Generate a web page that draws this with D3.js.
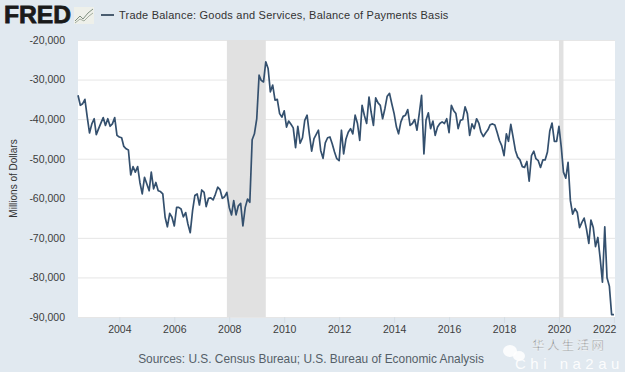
<!DOCTYPE html>
<html>
<head>
<meta charset="utf-8">
<script src="https://cdn.jsdelivr.net/npm/d3@7"></script>
<style>
  html, body { margin: 0; padding: 0; background: #e1e9f0; }
  svg { display: block; font-family: "Liberation Sans", Arial, sans-serif; }
</style>
</head>
<body>
<div id="chart"></div>
<script>
const seriesName = 'Trade Balance: Goods and Services, Balance of Payments Basis';
const yAxisLabel = 'Millions of Dollars';
const sourceNote = 'Sources: U.S. Census Bureau; U.S. Bureau of Economic Analysis';

const firstMonth = new Date(2002, 6, 1);
// monthly values in millions of dollars
const balance = [
  -33960, -36500, -36100, -35000, -39500, -43500, -41200, -39900, -43900, -42400, -41000, -39600,
  -41600, -39900, -41800, -41200, -39600, -44100, -44500, -44700, -46900, -47500, -47800, -54100,
  -52000, -53400, -52000, -56000, -58900, -54700, -56400, -58100, -53400, -57600, -56000, -58100,
  -58300, -58900, -64800, -67200, -63800, -64800, -67000, -62300, -62300, -62700, -64700, -63600,
  -66500, -68700, -63100, -59300, -58900, -61700, -57900, -58500, -62100, -60000, -59900, -60400,
  -59000, -57200, -57800, -60000, -59600, -58500, -62300, -64200, -60600, -64200, -61900, -61300,
  -67000, -62300, -60200, -61000, -45200, -43700, -39900, -28900, -30200, -30600, -25500, -27200,
  -33100, -31400, -35200, -35000, -38600, -39500, -37900, -42000, -40500, -41300, -42200, -47200,
  -41800, -46100, -44700, -40300, -39000, -43700, -48100, -44900, -43900, -42800, -47900, -49900,
  -46000, -44700, -44500, -46200, -48300, -50000, -50500, -42800, -48800, -45000, -43300, -42400,
  -43700, -39000, -41100, -45400, -36500, -39000, -41100, -34400, -38200, -41600, -34600, -35900,
  -36500, -39900, -37300, -34200, -33500, -36100, -38600, -42000, -43700, -40700, -39300, -39000,
  -37600, -41600, -41100, -40100, -42800, -38600, -34000, -48800, -40300, -38400, -42400, -40500,
  -44100, -42000, -41100, -40700, -41100, -39900, -43400, -36500, -37800, -38600, -42400, -40300,
  -40100, -36900, -38600, -44100, -41200, -42400, -39900, -41100, -43300, -44400, -43500, -42700,
  -41400, -41200, -41500, -43300, -45400, -46700, -49200, -43700, -45600, -41300, -44500, -47900,
  -49600, -50300, -52000, -52200, -50700, -55700, -49200, -48100, -50000, -50500, -52200, -50300,
  -50300, -48300, -43000, -41000, -45600, -45600, -41800, -47100, -53400, -54900, -50900, -60600,
  -64000, -62600, -63600, -67400, -66100, -65000, -67800, -71400, -65500, -67400, -72200, -69900,
  -75000, -81200, -67200, -80100, -82200, -89400, -89400
];

const yTicks = [-20000, -30000, -40000, -50000, -60000, -70000, -80000, -90000];
const xTickYears = [2004, 2006, 2008, 2010, 2012, 2014, 2016, 2018, 2020, 2022];
// shaded bars, placed where the picture has them
const recessions = [
  [new Date(2007, 11, 1), new Date(2009, 4, 1)],
  [new Date(2020, 0, 1), new Date(2020, 2, 1)]
];

const width = 625;
const height = 372;
const margin = { top: 40, right: 10, bottom: 55, left: 78 };

const months = balance.map((v, i) => d3.timeMonth.offset(firstMonth, i));

const svg = d3.select('#chart').append('svg')
  .attr('width', width)
  .attr('height', height);

const x = d3.scaleTime()
  .domain([firstMonth, new Date(2022, 0, 15)])
  .range([margin.left, width - margin.right]);

const y = d3.scaleLinear()
  .domain([-90000, -20000])
  .range([height - margin.bottom, margin.top]);

// plain hyphen on the tick labels, not the unicode minus
const fmt = d3.formatLocale({ decimal: '.', thousands: ',', grouping: [3], currency: ['$', ''], minus: '-' }).format(',');

// plot background
svg.append('rect')
  .attr('x', margin.left)
  .attr('y', margin.top)
  .attr('width', width - margin.left - margin.right)
  .attr('height', height - margin.top - margin.bottom)
  .attr('fill', '#fff');

// y axis with grid lines
const yAxis = svg.append('g')
  .attr('transform', `translate(${margin.left},0)`)
  .call(d3.axisLeft(y)
    .tickValues(yTicks)
    .tickSize(-(width - margin.left - margin.right))
    .tickPadding(13)
    .tickFormat(fmt));
yAxis.select('.domain').remove();
yAxis.selectAll('line').attr('stroke', '#e6e6e6');
yAxis.selectAll('text')
  .attr('font-size', 10.5)
  .attr('fill', '#3c3c3c');

// recession bars
svg.selectAll('.recession')
  .data(recessions)
  .enter()
  .append('rect')
  .attr('class', 'recession')
  .attr('x', d => x(d[0]))
  .attr('y', margin.top)
  .attr('width', d => x(d[1]) - x(d[0]))
  .attr('height', height - margin.top - margin.bottom)
  .attr('fill', '#e1e1e1');

// x axis
const xAxis = svg.append('g')
  .attr('transform', `translate(0,${height - margin.bottom})`)
  .call(d3.axisBottom(x)
    .tickValues(xTickYears.map(yr => new Date(yr, 0, 1)))
    .tickSize(6)
    .tickPadding(3)
    .tickFormat(d3.timeFormat('%Y')));
xAxis.select('.domain').remove();
xAxis.selectAll('line').attr('stroke', '#d5dde4');
xAxis.selectAll('text')
  .attr('font-size', 10.5)
  .attr('fill', '#3c3c3c');
// last label is pulled in so it stays inside the frame
xAxis.selectAll('text')
  .filter(d => d.getFullYear() === 2022)
  .attr('text-anchor', 'end')
  .attr('x', 2);

// the series
const line = d3.line()
  .x((d, i) => x(months[i]))
  .y(d => y(d));

svg.append('path')
  .datum(balance)
  .attr('fill', 'none')
  .attr('stroke', '#34506e')
  .attr('stroke-width', 1.7)
  .attr('stroke-linejoin', 'round')
  .attr('d', line);

// header: logo and legend
svg.append('text')
  .attr('x', 4)
  .attr('y', 23)
  .attr('font-size', 24)
  .attr('font-weight', 700)
  .attr('textLength', 67)
  .attr('lengthAdjust', 'spacingAndGlyphs')
  .attr('stroke', '#1a1a1a')
  .attr('stroke-width', 0.8)
  .attr('fill', '#1a1a1a')
  .text('FRED');

const logo = svg.append('g').attr('transform', 'translate(74,7)');
logo.append('rect')
  .attr('width', 20)
  .attr('height', 17)
  .attr('fill', '#eef0ea');
logo.append('path')
  .attr('d', 'M1,14 L6,9 L9,12 L14,6 L19,2')
  .attr('fill', 'none')
  .attr('stroke', '#7f8f80')
  .attr('stroke-width', 1);
logo.append('path')
  .attr('d', 'M1,16 L6,12 L10,14 L15,9 L19,6')
  .attr('fill', 'none')
  .attr('stroke', '#a3ad9e')
  .attr('stroke-width', 1);

svg.append('line')
  .attr('x1', 101)
  .attr('x2', 114)
  .attr('y1', 15)
  .attr('y2', 15)
  .attr('stroke', '#4a5d70')
  .attr('stroke-width', 2);

svg.append('text')
  .attr('x', 119)
  .attr('y', 19)
  .attr('font-size', 11)
  .attr('letter-spacing', 0.22)
  .attr('fill', '#333')
  .text(seriesName);

svg.append('text')
  .attr('transform', `translate(17,${(margin.top + height - margin.bottom) / 2}) rotate(-90)`)
  .attr('text-anchor', 'middle')
  .attr('font-size', 10)
  .attr('fill', '#333')
  .text(yAxisLabel);

svg.append('text')
  .attr('x', 311)
  .attr('y', 363)
  .attr('text-anchor', 'middle')
  .attr('font-size', 11.9)
  .attr('fill', '#555f68')
  .text(sourceNote);

// watermark
const mark = svg.append('g');
mark.append('ellipse')
  .attr('cx', 510).attr('cy', 351).attr('rx', 7).attr('ry', 6)
  .attr('fill', '#fff').attr('opacity', 0.85);
mark.append('ellipse')
  .attr('cx', 519).attr('cy', 356).attr('rx', 6).attr('ry', 5)
  .attr('fill', '#fff').attr('opacity', 0.85);
mark.append('text')
  .attr('x', 532)
  .attr('y', 350)
  .attr('font-family', '"Noto Sans CJK SC", sans-serif')
  .attr('font-size', 12.5)
  .attr('letter-spacing', 2.4)
  .attr('fill', '#6d747a')
  .attr('stroke', '#fff')
  .attr('stroke-width', 0.4)
  .text('华人生活网');
mark.append('text')
  .attr('x', 515)
  .attr('y', 369)
  .attr('font-size', 15)
  .attr('letter-spacing', 4.5)
  .attr('fill', '#fff')
  .attr('opacity', 0.9)
  .text('Chi na2au');
</script>
</body>
</html>
